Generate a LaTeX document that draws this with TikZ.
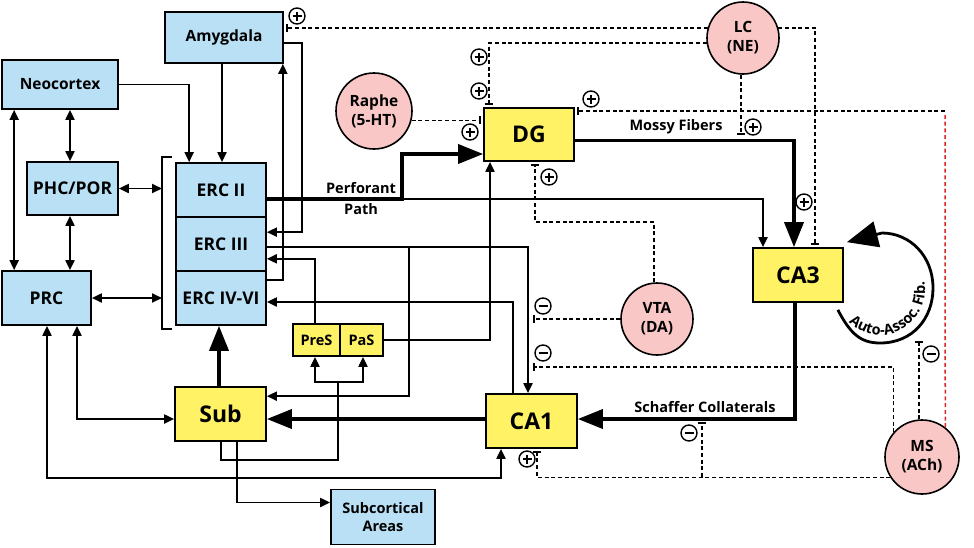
\documentclass[tikz,border=0pt]{standalone}
\usepackage{fontspec}
\setmainfont{Open Sans}
\usetikzlibrary{arrows.meta,decorations.text}
\newcommand\aafont{\bfseries\fontsize{14.5}{16}\selectfont}

\begin{document}
\begin{tikzpicture}[x=1pt, y=-1pt, line join=miter,
		font=\bfseries\fontsize{15.5}{17}\selectfont,
		smtri/.tip={Triangle[length=10pt,width=9pt]},
		bigtri/.tip={Triangle[length=25pt,width=19pt]},
		cortex/.style={draw, line width=1.7pt, fill=cellblue, inner sep=0pt, align=center},
		caps/.style={font=\bfseries\fontsize{17.5}{19}\selectfont},
		hippo/.style={draw, line width=1.7pt, fill=cellyellow, inner sep=0pt, align=center, font=\bfseries\fontsize{23}{25}\selectfont},
		small/.style={font=\bfseries\fontsize{14.5}{18}\selectfont},
		nucleus/.style={circle, draw, line width=1.6pt, fill=nucpink, inner sep=0pt, minimum size=#1, align=center, font=\bfseries\fontsize{15.5}{19}\selectfont},
		conn/.style={line width=1.9pt},
		fat/.style={line width=3.6pt},
		mod/.style={line width=1.5pt, dash pattern=on 4pt off 2.7pt, shorten >=2.5pt, -{Bar[width=8pt,line width=1.6pt]}},
		sgn/.style={circle, draw, line width=1.4pt, minimum size=16pt, inner sep=0pt},
		excit/.style={sgn, path picture={\draw[line width=1.4pt] ([xshift=3.5pt]path picture bounding box.west) -- ([xshift=-3.5pt]path picture bounding box.east) ([yshift=-3.5pt]path picture bounding box.north) -- ([yshift=3.5pt]path picture bounding box.south);}},
		inhib/.style={sgn, path picture={\draw[line width=1.4pt] ([xshift=3.5pt]path picture bounding box.west) -- ([xshift=-3.5pt]path picture bounding box.east);}},
		edgelbl/.style={font=\bfseries\fontsize{14.5}{21}\selectfont, align=center}]
	\definecolor{cellblue}{RGB}{185,224,245}
	\definecolor{cellyellow}{RGB}{255,242,100}
	\definecolor{nucpink}{RGB}{249,200,198}
	\definecolor{achred}{RGB}{215,40,40}
	\useasboundingbox (0,0) rectangle (974,547);

	% cortical areas
	\node[cortex, minimum width=118pt, minimum height=51pt] (amyg) at (224,37.5) {Amygdala};
	\node[cortex, minimum width=116pt, minimum height=49pt] (neo) at (60,84.5) {Neocortex};
	\node[cortex, caps, minimum width=91pt, minimum height=53pt] (phc) at (72.5,188.5) {PHC/POR};
	\node[cortex, caps, minimum width=89pt, minimum height=54pt] (prc) at (46.5,298) {PRC};
	\node[cortex, caps, minimum width=90pt, minimum height=54pt] (ercII) at (221,190) {ERC II};
	\node[cortex, caps, minimum width=90pt, minimum height=54pt] (ercIII) at (221,244) {ERC III};
	\node[cortex, caps, minimum width=90pt, minimum height=54pt] (ercIV) at (221,298) {ERC IV-VI};
	\node[cortex, small, minimum width=104pt, minimum height=55pt] (subc) at (383,517) {Subcortical\\Areas};

	% hippocampal fields
	\node[hippo, minimum width=90pt, minimum height=53pt] (dg) at (529,134.5) {DG};
	\node[hippo, minimum width=90pt, minimum height=54pt] (ca3) at (798,275) {CA3};
	\node[hippo, minimum width=91pt, minimum height=54pt] (ca1) at (531.5,421) {CA1};
	\node[hippo, minimum width=91pt, minimum height=54pt] (sub) at (220.5,414) {Sub};
	\node[hippo, small, minimum width=47pt, minimum height=32pt] (pres) at (316.5,340) {PreS};
	\node[hippo, small, minimum width=43pt, minimum height=32pt] (pas) at (361.5,340) {PaS};

	% neuromodulatory nuclei
	\node[nucleus=76pt] (raphe) at (374,111) {Raphe\\(5-HT)};
	\node[nucleus=72pt] (lc) at (743,38) {LC\\(NE)};
	\node[nucleus=72pt] (vta) at (657,319) {VTA\\(DA)};
	\node[nucleus=74pt] (ms) at (922,457) {MS\\(ACh)};

	\coordinate (brT) at (162,157);
	\coordinate (brB) at (162,329);
	\coordinate (ppbend) at (402,199);
	\coordinate (e3br) at (409,247);
	\coordinate (spl) at (338,382);
	\coordinate (mfmod) at (741,137.5);
	\coordinate (vtamod) at (530.5,319);
	\coordinate (ercmod) at (530.5,367);
	\coordinate (aamod) at (919,338.5);
	\coordinate (redc) at (945,111);
	\coordinate (msbr) at (702,477);
	\coordinate (scmod) at (702,419.5);

	% cortical connections
	\draw[conn] ([xshift=10pt]brT) -- (brT) -- (brB) -- ([xshift=10pt]brB);
	\draw[conn, -{smtri}] (neo.east) -| ([xshift=14pt]ercII.north west);
	\draw[conn, -{smtri}] ([xshift=-2pt]amyg.south) -- ([xshift=-2pt]amyg.south |- ercII.north);
	\draw[conn, {smtri}-{smtri}] ([xshift=10pt]neo.south) -- ([xshift=10pt]neo.south |- phc.north);
	\draw[conn, {smtri}-{smtri}] ([xshift=-2.5pt]phc.south) -- ([xshift=-2.5pt]phc.south |- prc.north);
	\draw[conn, {smtri}-{smtri}] ([xshift=13pt]neo.south west) -- ([xshift=13pt]neo.south west |- prc.north);
	\draw[conn, {smtri}-{smtri}] (phc.east) -- (phc.east -| brT);
	\draw[conn, {smtri}-{smtri}] (prc.east) -- (prc.east -| brT);
	\draw[conn, -{smtri}] ([yshift=-10pt]ercIV.north east) -| ([xshift=-1pt]amyg.south east);
	\draw[conn, -{smtri}] ([yshift=-5.5pt]amyg.east) -- ++(18,0) |- ([yshift=-16pt]ercIII.north east);

	% trisynaptic loop
	\draw[fat, -{bigtri}] ([yshift=-9pt]ercII.east) -- (ppbend) |- ([yshift=-19.5pt]dg.west);
	\draw[conn, -{smtri}] (ppbend) -| ([xshift=-35pt]ca3.north);
	\draw[fat, -{bigtri}] ([yshift=-6pt]dg.east) -| ([xshift=-4pt]ca3.north);
	\draw[fat, -{bigtri}] ([xshift=-3pt]ca3.south) |- ([yshift=2pt]ca1.east);
	\draw[fat, -{bigtri}] ([yshift=2pt]ca1.west) -- ([yshift=-5pt]sub.east);
	\draw[fat, -{bigtri}] ([xshift=-1.5pt]sub.north) -- ([xshift=-1.5pt]sub.north |- ercIV.south);
	\node[edgelbl] (pplbl) at (361,199) {Perforant\\Path};
	\node[edgelbl] (mflbl) at (676,127) {Mossy Fibers};
	\node[edgelbl] (sclbl) at (705,407) {Schaffer Collaterals};

	% other hippocampal connections
	\draw[conn, -{smtri}] ([yshift=-3pt]ercIII.east) -| ([xshift=-3.5pt]ca1.north);
	\draw[conn, -{smtri}] (e3br) |- ([yshift=-10pt]sub.north east);
	\draw[conn, -{smtri}] ([xshift=-1.5pt]pres.north) |- ([yshift=13pt]ercIII.south east);
	\draw[conn, -{smtri}] (pas.east) -| ([xshift=-39pt]dg.south);
	\draw[conn, -{smtri}] ([xshift=-18.5pt]ca1.north) |- ([yshift=-4pt]ercIV.east);
	\draw[conn] ([xshift=0.5pt]sub.south) -- ++(0,18) -| (spl);
	\draw[conn, -{smtri}] (spl) -| ([xshift=-1.5pt]pres.south);
	\draw[conn, -{smtri}] (spl) -| ([xshift=1.5pt]pas.south);
	\draw[conn, -{smtri}] ([xshift=16.5pt]sub.south) |- ([yshift=14.5pt]subc.west);
	\draw[conn, {smtri}-{smtri}] ([xshift=30.5pt]prc.south) |- ([yshift=-5pt]sub.west);
	\draw[conn, {smtri}-{smtri}] ([xshift=0.5pt]prc.south) -- ++(0,152) -| ([xshift=-30.5pt]ca1.south);

	% recurrent collaterals of CA3
	\draw[line width=2.8pt, -{Triangle[length=31pt,width=26pt]}] ([xshift=-6pt,yshift=-7pt]ca3.south east) .. controls (850,333) and (860,343) .. (880,343) .. controls (913,343) and (933,318) .. (933,288) .. controls (933,256) and (910,233) .. (882,233) -- ([xshift=3pt,yshift=5pt]ca3.north east);
	\path[decorate, decoration={text along path, text align=center, text={|\aafont|Auto-Assoc. Fib.}}] (880,290) ++(145:45) arc[start angle=145, end angle=-22, radius=45];

	% modulatory projections
	\draw[mod] (lc.164) -- (lc.164 -| amyg.east);
	\draw[mod] (lc.188) -| ([xshift=-40pt]dg.north);
	\draw[mod] (lc.16) -| ([xshift=17pt]ca3.north);
	\draw[mod] ([xshift=-2pt]lc.south) -- (mfmod);
	\draw[mod] (raphe.346) -- (raphe.346 -| dg.west);
	\draw[mod] ([xshift=-3pt]vta.north) -- ++(0,-60) -| ([xshift=6pt]dg.south);
	\draw[mod] (vta.west) -- (vtamod);
	\draw[mod, draw=achred, -] (ms.52) -- (redc);
	\draw[mod] (redc) -- (redc -| dg.east);
	\draw[mod] ([xshift=-3pt]ms.north) -- (aamod);
	\draw[mod] (ms.139) |- (ercmod);
	\draw[mod] (ms.213) -| ([xshift=5.5pt]ca1.south);
	\draw[mod] (msbr) -- (scmod);

	\node[excit] (s1) at (297,16) {};
	\node[excit] (s2) at (479,57) {};
	\node[excit] (s3) at (479,91) {};
	\node[excit] (s4) at (470,132) {};
	\node[excit] (s5) at (591,99) {};
	\node[excit] (s6) at (753,127) {};
	\node[excit] (s7) at (804,202) {};
	\node[excit] (s8) at (549,177) {};
	\node[inhib] (s9) at (543,306) {};
	\node[inhib] (s10) at (543,353) {};
	\node[inhib] (s11) at (931,354) {};
	\node[inhib] (s12) at (689,433) {};
	\node[excit] (s13) at (527,459) {};
\end{tikzpicture}
\end{document}
